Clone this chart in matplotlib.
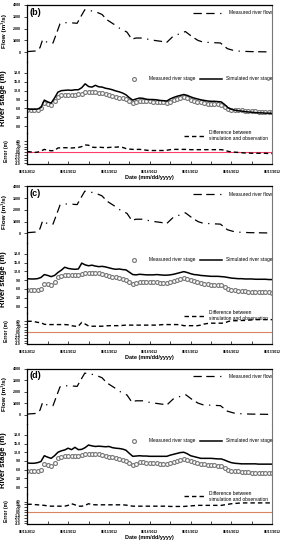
import numpy as np
import pandas as pd
import matplotlib
matplotlib.use('Agg')
import matplotlib.pyplot as plt
import matplotlib.dates as mdates
from matplotlib.ticker import FormatStrFormatter

plt.rcParams['font.family'] = ['Liberation Sans', 'DejaVu Sans']
plt.rcParams['lines.scale_dashes'] = False

# 2-hourly time base for stage / error series
times = pd.date_range('2012-06-11', '2012-06-17', freq='2h')

# measured river flow (m3/s), read at irregular hours after 06/11 00:00
flow_hours = [0, 4.6, 7.4, 9.1, 12.2, 15.1, 19.2, 20.4, 25.2, 29.3, 31, 33.8, 39.8,
              43.9, 46.8, 51.6, 54.5, 58.6, 61.4, 63.8, 68.2, 72.2, 82.1, 85.7,
              92.9, 97, 100.3, 103.4, 113.5, 117.6, 122.4, 131, 144]
flow_vals = [50, 100, 370, 1100, 780, 780, 2400, 2500, 2500, 2450, 2900, 3600, 3450,
             3200, 2750, 2300, 2000, 1700, 1100, 1200, 1200, 1050, 850, 1350,
             1750, 1300, 1000, 850, 780, 300, 100, 50, 20]

stage_meas = [5.6, 5.5, 5.5, 5.6, 6.0, 7.8, 7.6, 7.2, 8.4, 10.0, 10.5, 10.6, 10.6,
              10.6, 10.6, 10.7, 11.0, 11.4, 11.5, 11.5, 11.4, 11.3, 11.1, 10.8,
              10.5, 10.2, 9.9, 9.6, 9.4, 9.1, 8.4, 7.7, 8.1, 8.5, 8.5, 8.4,
              8.4, 8.3, 8.2, 8.1, 8.0, 7.9, 8.3, 8.7, 9.1, 9.4, 9.7, 9.4,
              9.0, 8.6, 8.3, 8.0, 7.8, 7.6, 7.5, 7.5, 7.4, 7.3, 6.6, 5.9,
              5.6, 5.5, 5.4, 5.3, 5.2, 5.1, 5.0, 5.0, 4.9, 4.9, 4.8, 4.8, 4.7]

stage_sim_b = [5.9, 5.7, 5.7, 5.8, 6.3, 8.8, 8.2, 7.8, 9.5, 11.5, 12.0, 12.1, 12.2,
               12.1, 12.3, 12.3, 13.0, 14.3, 13.4, 13.2, 13.8, 13.3, 13.2, 12.8,
               12.6, 12.3, 11.9, 11.6, 11.2, 10.6, 9.6, 8.8, 9.2, 9.5, 9.4, 9.1,
               9.0, 9.0, 8.9, 8.7, 8.6, 8.5, 9.2, 9.7, 10.1, 10.4, 10.7, 10.4,
               9.9, 9.5, 9.2, 8.9, 8.7, 8.5, 8.4, 8.4, 8.3, 8.2, 7.3, 6.2,
               5.7, 5.4, 5.2, 5.1, 4.9, 4.8, 4.7, 4.6, 4.5, 4.5, 4.4, 4.4, 4.3]
stage_sim_c = [9.5, 9.4, 9.4, 9.5, 9.9, 10.9, 10.6, 10.2, 10.6, 11.6, 12.4, 13.4, 13.0,
               12.8, 12.7, 12.8, 14.8, 14.2, 13.9, 14.1, 13.8, 13.6, 13.7, 13.5,
               13.2, 12.9, 12.7, 12.8, 12.6, 12.5, 11.7, 10.9, 10.8, 11.0, 10.9, 10.8,
               10.8, 10.8, 10.9, 10.8, 10.7, 10.7, 10.8, 11.0, 11.3, 11.6, 11.9, 11.6,
               11.2, 10.9, 10.8, 10.6, 10.5, 10.4, 10.3, 10.3, 10.3, 10.2, 10.1, 9.9,
               9.7, 9.6, 9.5, 9.5, 9.4, 9.4, 9.4, 9.3, 9.3, 9.3, 9.3, 9.2, 9.2]
stage_sim_d = [8.3, 8.2, 8.2, 8.4, 8.8, 10.8, 10.3, 9.9, 10.8, 12.0, 12.5, 12.8, 13.4,
               12.9, 13.7, 12.9, 13.0, 13.6, 14.5, 14.2, 14.0, 14.1, 14.0, 13.9,
               14.0, 13.6, 13.4, 13.3, 13.1, 12.7, 11.6, 10.6, 10.7, 10.8, 10.7, 10.7,
               10.6, 10.6, 10.6, 10.6, 10.6, 10.6, 11.0, 11.3, 11.6, 11.9, 12.0, 11.5,
               10.8, 10.5, 10.2, 9.9, 9.9, 9.9, 9.9, 9.8, 9.7, 9.7, 9.3, 8.8,
               8.4, 8.2, 8.1, 8.0, 8.0, 8.0, 8.0, 8.0, 7.9, 7.9, 7.9, 7.9, 7.9]

err_b = [0.2, 0.1, -0.1, 0.0, 0.4, 1.0, 0.7, 0.5, 0.6, 1.5, 1.6, 1.6, 1.6,
         1.5, 1.6, 1.7, 2.0, 2.6, 2.5, 1.8, 1.7, 1.8, 1.7, 1.6,
         1.7, 1.8, 1.8, 1.9, 1.7, 1.3, 1.1, 1.0, 1.0, 1.0, 0.9, 0.7,
         0.6, 0.6, 0.6, 0.6, 0.6, 0.7, 0.9, 1.0, 1.0, 1.0, 1.0, 1.0,
         0.9, 0.9, 0.9, 0.9, 0.9, 0.9, 0.9, 0.9, 0.9, 0.9, 0.7, 0.3,
         0.1, 0.0, -0.1, -0.2, -0.3, -0.3, -0.4, -0.4, -0.4, -0.4, -0.4, -0.5, -0.5]
err_c = [4.0, 4.0, 3.9, 3.6, 3.5, 2.9, 2.8, 2.8, 2.8, 2.8, 2.8, 2.8, 2.7,
         2.4, 2.2, 2.2, 3.6, 3.0, 2.3, 2.2, 2.2, 2.2, 2.2, 2.3,
         2.4, 2.4, 2.4, 2.4, 2.5, 2.6, 2.6, 2.6, 2.6, 2.6, 2.6, 2.6,
         2.6, 2.6, 2.6, 2.7, 2.8, 2.8, 2.8, 2.8, 2.8, 2.7, 2.4, 2.4,
         2.4, 2.4, 2.4, 2.6, 3.0, 3.2, 3.3, 3.3, 3.3, 3.3, 3.4, 3.9,
         4.2, 4.2, 4.2, 4.3, 4.3, 4.4, 4.5, 4.6, 4.6, 4.6, 4.6, 4.6, 4.6]
err_d = [3.0, 3.0, 2.9, 2.8, 2.7, 2.6, 2.4, 2.3, 2.3, 2.3, 2.3, 2.3, 2.6,
         3.2, 2.8, 2.3, 2.3, 2.6, 3.2, 2.9, 2.8, 2.8, 2.8, 2.8,
         2.8, 2.8, 2.8, 2.8, 2.8, 2.7, 2.5, 2.3, 2.3, 2.3, 2.3, 2.3,
         2.3, 2.3, 2.3, 2.3, 2.3, 2.3, 2.2, 2.2, 2.2, 2.2, 2.2, 2.3,
         2.4, 2.5, 2.6, 2.6, 2.6, 2.6, 2.6, 2.6, 2.6, 2.6, 2.8, 3.0,
         3.2, 3.3, 3.4, 3.5, 3.5, 3.5, 3.5, 3.5, 3.5, 3.5, 3.5, 3.5, 3.5]

panels = [
    ('(b)', stage_sim_b, err_b, '#ff3d6a', 5.0, 164.0),
    ('(c)', stage_sim_c, err_c, '#d98461', 186.5, 344.0),
    ('(d)', stage_sim_d, err_d, '#d98461', 368.5, 524.0),
]

W, H = 283.0, 550.0
flow_t = pd.Timestamp('2012-06-11') + pd.to_timedelta(flow_hours, unit='h')

fig = plt.figure(figsize=(2.83, 5.5), dpi=100)


def add_px_axes(top, bottom):
    ax = fig.add_axes([27.3 / W, 1 - bottom / H, 245 / W, (bottom - top) / H])
    ax.patch.set_visible(False)
    return ax


for label, sim, err, zcol, top, bottom in panels:
    h = bottom - top
    y1 = top + 0.358 * h
    y2 = y1 + 0.447 * h
    ax_f = add_px_axes(top, y1)
    ax_s = add_px_axes(y1, y2)
    ax_e = add_px_axes(y2, bottom)

    # flow
    ax_f.plot(flow_t, flow_vals, color='black', lw=0.9,
              dashes=(6.0, 3.2, 6.0, 4.0, 0.9, 4.0), label='Measured river flow')
    ax_f.set_ylim(-825, 4000)
    ax_f.set_yticks([0, 1000, 2000, 3000, 4000])
    ax_f.text(0.007, 0.95, label, transform=ax_f.transAxes, ha='left', va='top',
              fontsize=6.5, fontweight='bold')
    ax_f.legend(loc='center right', bbox_to_anchor=(1.0, 0.86), frameon=False,
                fontsize=3.5, handlelength=6.0, handletextpad=1.4,
                borderpad=0, borderaxespad=0)

    # stage
    ax_s.plot(times, stage_meas, ls='none', marker='o', ms=2.8, mfc='white',
              mec='#7a7a7a', mew=0.85, label='Measured river stage')
    ax_s.plot(times, sim, color='black', lw=1.1, label='Simulated river stage')
    ax_s.set_ylim(-2.3, 21.7)
    ax_s.set_yticks(np.arange(0, 19, 3))
    ax_s.yaxis.set_major_formatter(FormatStrFormatter('%.1f'))
    ax_s.legend(loc='center right', bbox_to_anchor=(1.0, 0.76), frameon=False,
                fontsize=3.5, ncol=2, handlelength=4.5, handletextpad=0.8,
                columnspacing=1.0, borderpad=0, borderaxespad=0)

    # error
    ax_e.axhline(0, color=zcol, lw=0.8)
    ax_e.plot(times, err, color='black', lw=1.0, dashes=(3.2, 2.2),
              label='Difference between\nsimulation and observation')
    ax_e.set_ylim(-4.26, 6.9)
    ax_e.set_yticks(np.arange(-4, 5, 1))
    ax_e.yaxis.set_major_formatter(FormatStrFormatter('%.1f'))
    ax_e.legend(loc='center right', bbox_to_anchor=(0.982, 0.92), frameon=False,
                fontsize=3.5, handlelength=4.5, handletextpad=0.7,
                borderpad=0, borderaxespad=0)

    for ax in (ax_f, ax_s, ax_e):
        ax.set_xlim(pd.Timestamp('2012-06-11'), pd.Timestamp('2012-06-17'))
        ax.spines['left'].set_linewidth(0.9)
        ax.spines['right'].set_color('#777777')
        ax.spines['right'].set_linewidth(0.8)
        ax.spines['top'].set_linewidth(0.9)
        ax.spines['bottom'].set_linewidth(0.9)
        ax.tick_params(axis='y', direction='out', length=2.2, width=0.5,
                       pad=2.4, labelsize=2.6)
        for t in ax.get_yticklabels():
            t.set_fontweight('bold')
    ax_f.spines['bottom'].set_visible(False)
    ax_s.spines['top'].set_visible(False)
    ax_s.spines['bottom'].set_visible(False)
    ax_e.spines['top'].set_visible(False)
    ax_e.tick_params(axis='y', labelsize=2.3)
    for ax in (ax_f, ax_s):
        ax.tick_params(axis='x', which='both', bottom=False, labelbottom=False)

    ax_e.xaxis.set_major_locator(mdates.DayLocator())
    ax_e.xaxis.set_minor_locator(mdates.HourLocator(byhour=[12]))
    ax_e.xaxis.set_major_formatter(mdates.DateFormatter('%m/%d/%Y'))
    ax_e.tick_params(axis='x', which='both', direction='in', length=2.0,
                     width=0.5, pad=4.2, labelsize=2.4)
    for t in ax_e.get_xticklabels():
        t.set_fontweight('bold')
    ax_e.set_xlabel('Date (mm/dd/yyyy)', fontsize=4.0, fontweight='bold',
                    labelpad=1.2)

    ax_f.set_ylabel('Flow (m³/s)', fontsize=4.6, fontweight='bold')
    ax_f.yaxis.set_label_coords(-0.082, 0.55)
    ax_s.set_ylabel('River stage (m)', fontsize=5.6, fontweight='bold')
    ax_s.yaxis.set_label_coords(-0.082, 0.486)
    ax_e.set_ylabel('Error (m)', fontsize=3.6, fontweight='bold')
    ax_e.yaxis.set_label_coords(-0.073, 0.43)

fig.savefig('out.png', dpi=100)
